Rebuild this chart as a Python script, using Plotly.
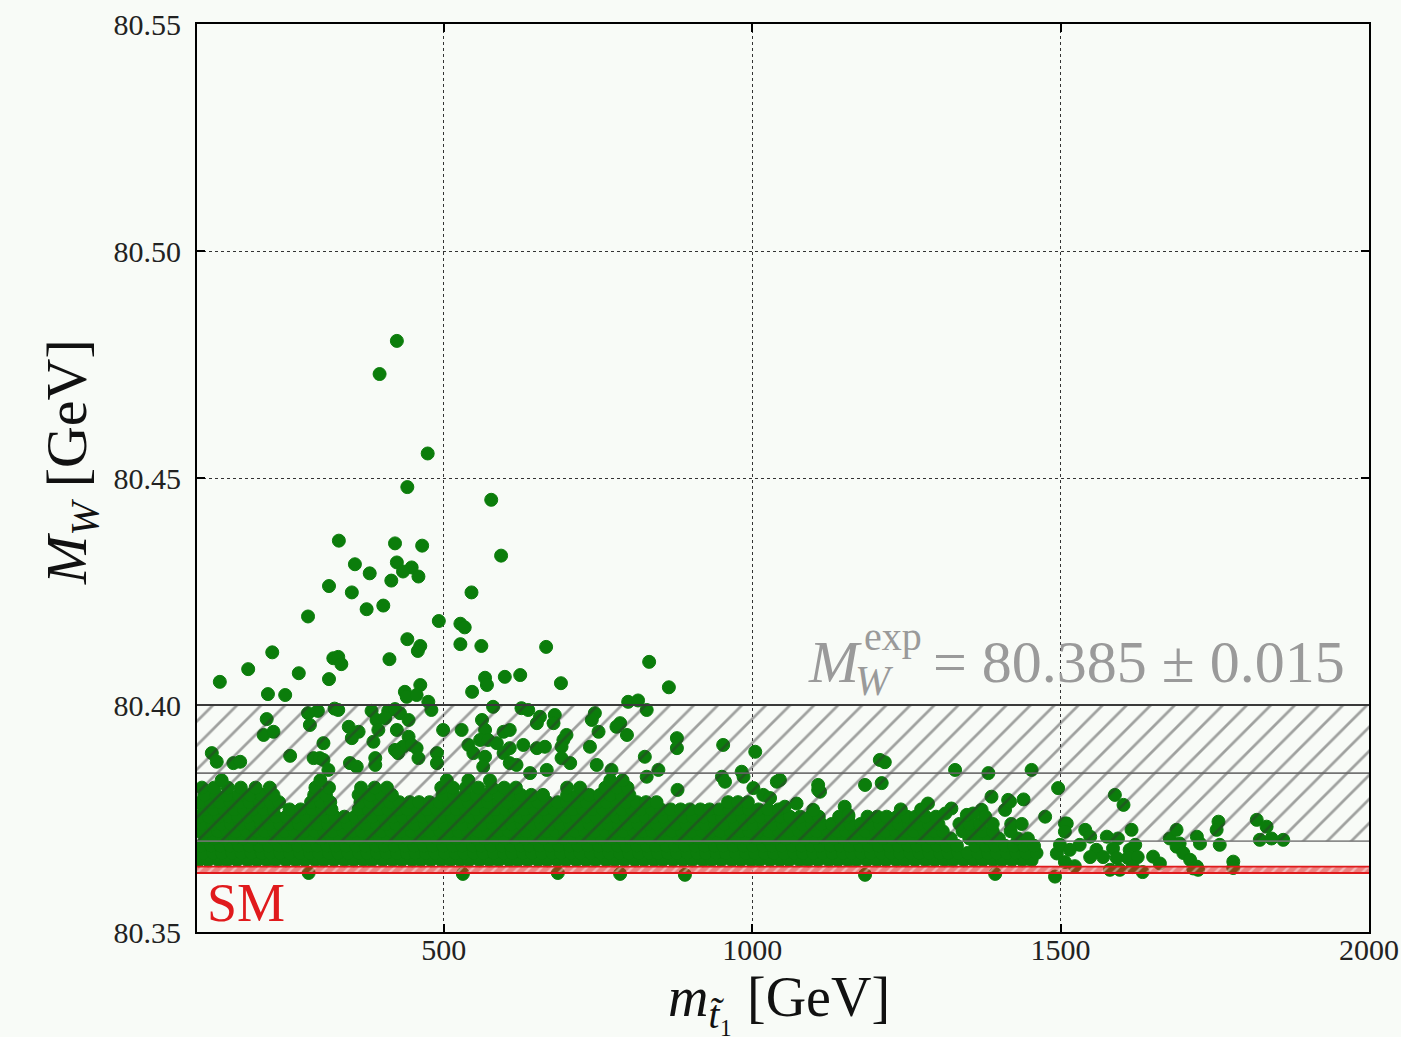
import plotly.graph_objects as go

# ---------------------------------------------------------------------------
# Axes
# ---------------------------------------------------------------------------
x_range = [100, 2000]
y_range = [80.35, 80.55]
x_ticks = [500, 1000, 1500, 2000]
y_ticks = [80.35, 80.40, 80.45, 80.50, 80.55]

# Experimental W mass and its uncertainty (GeV)
mw_exp = 80.385
mw_exp_err = 0.015
# SM prediction band (GeV)
mw_sm_low = 80.3630
mw_sm_high = 80.3644

# ---------------------------------------------------------------------------
# Scan points: the saturated core, stored row by row (one m_W level per row)
# ---------------------------------------------------------------------------
mw_rows = [80.3658, 80.3674, 80.3690, 80.3706, 80.3722, 80.3738,
           80.3754, 80.3770, 80.3786, 80.3802, 80.3818, 80.3834]

mstop_row0 = [103, 118, 135, 149, 165, 182, 197, 213, 227, 244, 260, 275, 292, 306, 322,
              339, 354, 370, 384, 401, 417, 432, 449, 463, 479, 496, 511, 527, 541, 558,
              574, 589, 606, 620, 636, 653, 668, 684, 698, 715, 731, 746, 763, 777, 793,
              810, 825, 841, 855, 872, 888, 903, 920, 934, 950, 967, 982, 998, 1012, 1029,
              1045, 1060, 1077, 1091, 1107, 1124, 1139, 1155, 1169, 1186, 1202, 1217, 1234,
              1248, 1264, 1281, 1296, 1312, 1326, 1343, 1359, 1374, 1391, 1405, 1421, 1438,
              1453]
mstop_row1 = [110, 126, 140, 157, 172, 188, 205, 219, 235, 250, 267, 283, 297, 314, 329,
              345, 362, 376, 392, 407, 424, 440, 454, 471, 486, 502, 519, 533, 549, 564,
              581, 597, 611, 628, 643, 659, 676, 690, 706, 721, 738, 754, 768, 785, 800,
              816, 833, 847, 863, 878, 895, 911, 925, 942, 957, 973, 990, 1004, 1020, 1035,
              1052, 1068, 1082, 1099, 1114, 1130, 1147, 1161, 1177, 1192, 1209, 1225, 1239,
              1256, 1271, 1287, 1304, 1318, 1334, 1349, 1366, 1382, 1396, 1413, 1428, 1444,
              1461]
mstop_row2 = [106, 123, 138, 154, 168, 185, 201, 216, 233, 247, 263, 280, 295, 311, 325,
              342, 358, 373, 390, 404, 420, 437, 452, 468, 482, 499, 515, 530, 547, 561,
              577, 594, 609, 625, 639, 656, 672, 687, 704, 718, 734, 751, 766, 782, 796,
              813, 829, 844, 861, 875, 891, 908, 923, 939, 953, 970, 986, 1001, 1018, 1032,
              1048, 1065, 1080, 1096, 1110, 1127, 1143, 1158, 1175, 1189, 1205, 1222, 1237,
              1253, 1267, 1284, 1300, 1315, 1332, 1362, 1379, 1394, 1410, 1424, 1441, 1457]
mstop_row3 = [113, 128, 144, 161, 175, 191, 206, 223, 239, 253, 270, 285, 301, 318, 332,
              348, 363, 380, 396, 410, 427, 442, 458, 475, 489, 505, 520, 537, 553, 567,
              584, 599, 615, 632, 646, 662, 677, 694, 710, 724, 741, 756, 772, 789, 803,
              819, 834, 851, 867, 881, 898, 913, 929, 946, 960, 976, 991, 1008, 1024, 1038,
              1055, 1070, 1086, 1103, 1117, 1133, 1148, 1165, 1181, 1195, 1212, 1227, 1243,
              1260, 1274, 1290, 1305, 1322, 1352, 1369, 1384, 1400, 1431, 1447]
mstop_row4 = [101, 117, 134, 149, 163, 180, 196, 210, 225, 242, 258, 274, 291, 306, 320,
              337, 353, 367, 382, 399, 415, 431, 448, 463, 477, 494, 510, 524, 539, 556,
              572, 588, 605, 620, 634, 651, 667, 681, 696, 713, 729, 745, 762, 777, 791,
              808, 824, 838, 853, 870, 886, 902, 919, 934, 948, 965, 981, 995, 1010, 1027,
              1043, 1059, 1076, 1091, 1105, 1122, 1138, 1152, 1167, 1184, 1200, 1216, 1233,
              1248, 1262, 1279, 1295, 1309, 1341, 1357, 1373, 1390, 1419]
mstop_row5 = [108, 125, 139, 155, 170, 187, 203, 217, 234, 249, 265, 282, 296, 312, 327,
              344, 360, 374, 391, 406, 422, 439, 453, 469, 484, 501, 517, 531, 548, 563,
              579, 596, 610, 626, 641, 658, 674, 688, 705, 720, 736, 753, 767, 783, 798,
              815, 831, 845, 862, 877, 893, 910, 924, 940, 955, 972, 988, 1002, 1019, 1034,
              1050, 1067, 1081, 1097, 1112, 1129, 1145, 1159, 1176, 1191, 1207, 1224, 1238,
              1254, 1269, 1286, 1302, 1336, 1352, 1369, 1390, 1420, 1437]
mstop_row6 = [104, 119, 136, 152, 166, 182, 199, 214, 228, 245, 261, 276, 293, 309, 323,
              339, 356, 371, 385, 402, 418, 433, 450, 466, 480, 496, 513, 528, 542, 559,
              575, 590, 607, 623, 637, 653, 670, 685, 699, 716, 732, 747, 764, 780, 794,
              810, 827, 842, 856, 873, 889, 904, 921, 937, 951, 967, 984, 999, 1013, 1030,
              1046, 1061, 1078, 1094, 1108, 1141, 1156, 1187, 1203, 1218, 1235, 1251, 1265,
              1281, 1298]
mstop_row7 = [111, 127, 144, 160, 176, 191, 208, 224, 250, 268, 287, 303, 318, 362, 378,
              395, 410, 426, 441, 458, 473, 489, 504, 521, 536, 552, 568, 583, 600, 615,
              631, 647, 662, 679, 694, 710, 726, 741, 758, 773, 789, 805, 820, 837, 852,
              868, 884, 899, 916, 931, 947, 963, 978, 995, 1010, 1026, 1043, 1241, 1274]
mstop_row8 = [105, 122, 137, 154, 170, 185, 202, 219, 233, 285, 301, 316, 365, 381, 396,
              413, 428, 445, 460, 477, 493, 508, 525, 540, 557, 572, 589, 604, 621, 636,
              653, 668, 685, 700, 717, 732, 749, 764, 781, 796, 813, 828, 845, 961, 977,
              993]
mstop_row9 = [112, 131, 149, 168, 186, 205, 224, 290, 309, 362, 381, 399, 416, 498, 516,
              535, 553, 571, 590, 608, 625, 642, 661, 700, 718, 736, 753, 770, 788, 801]
mstop_row10 = [108, 128, 150, 171, 195, 218, 292, 314, 366, 388, 408, 496, 515, 536, 556,
               578, 598, 617, 700, 721, 762, 781, 798]
mstop_row11 = [140, 300, 505, 540, 575, 770, 790]

mstop_rows = [mstop_row0, mstop_row1, mstop_row2, mstop_row3, mstop_row4, mstop_row5,
              mstop_row6, mstop_row7, mstop_row8, mstop_row9, mstop_row10, mstop_row11]

# ---------------------------------------------------------------------------
# Scan points: individual points above the core
# ---------------------------------------------------------------------------
mstop_high = [424, 396, 474, 441, 577, 330, 421, 465, 593, 356, 424, 380, 448, 459, 434,
              415, 314, 351, 545, 280, 375, 402, 492, 527, 534, 441, 462, 458, 527, 561,
              666, 222, 321, 329, 334, 412, 833, 183, 265, 314, 137, 567, 570, 599, 624,
              690, 865, 546, 215, 243, 437, 440, 462, 456, 475, 799, 815]
mw_high = [80.4802, 80.4729, 80.4554, 80.4480, 80.4452, 80.4362, 80.4356, 80.4351, 80.4329,
           80.4310, 80.4314, 80.4290, 80.4303, 80.4283, 80.4294, 80.4274, 80.4262, 80.4248,
           80.4248, 80.4195, 80.4211, 80.4219, 80.4185, 80.4179, 80.4171, 80.4145, 80.4130,
           80.4119, 80.4134, 80.4130, 80.4128, 80.4116, 80.4103, 80.4106, 80.4090, 80.4101,
           80.4095, 80.4079, 80.4070, 80.4057, 80.4051, 80.4060, 80.4044, 80.4062, 80.4066,
           80.4048, 80.4039, 80.4029, 80.4024, 80.4022, 80.4029, 80.4018, 80.4044, 80.4022,
           80.4007, 80.4007, 80.4010]

mstop_band = [296, 323, 383, 410, 329, 280, 283, 213, 208, 224, 305, 346, 362, 351, 391,
              405, 394, 421, 429, 443, 480, 424, 443, 434, 448, 386, 389, 389, 421, 426,
              456, 459, 489, 489, 499, 529, 562, 567, 559, 572, 540, 548, 567, 564, 124,
              132, 159, 170, 251, 289, 299, 305, 348, 359, 313,
              580, 626, 637, 656, 651, 680, 678, 745, 740, 751, 737, 786, 780, 797, 829,
              878, 878, 953, 1005, 597, 607, 586, 597, 607, 629, 651, 664, 694, 699, 691,
              607, 618, 640, 667, 691, 705, 748, 772, 826, 848, 829, 983, 986, 951, 956,
              1040, 1002, 1018, 1029, 1053, 879, 1045]
mw_band = [80.3987, 80.3992, 80.3987, 80.3987, 80.3989, 80.3982, 80.3956, 80.3969, 80.3934,
           80.3941, 80.3916, 80.3952, 80.3941, 80.3927, 80.3967, 80.3971, 80.3945, 80.3991,
           80.3982, 80.3967, 80.3989, 80.3945, 80.3930, 80.3908, 80.3912, 80.3919, 80.3883,
           80.3868, 80.3901, 80.3894, 80.3905, 80.3883, 80.3894, 80.3872, 80.3945, 80.3945,
           80.3967, 80.3945, 80.3923, 80.3923, 80.3912, 80.3894, 80.3886, 80.3864, 80.3894,
           80.3875, 80.3872, 80.3875, 80.3888, 80.3883, 80.3883, 80.3879, 80.3872, 80.3864,
           80.3857,
           80.3996, 80.3993, 80.3989, 80.3974, 80.3960, 80.3978, 80.3960, 80.3982, 80.3967,
           80.3941, 80.3908, 80.3960, 80.3952, 80.3934, 80.3989, 80.3927, 80.3905, 80.3912,
           80.3897, 80.3941, 80.3945, 80.3916, 80.3894, 80.3905, 80.3912, 80.3905, 80.3908,
           80.3923, 80.3934, 80.3908, 80.3872, 80.3868, 80.3850, 80.3857, 80.3883, 80.3872,
           80.3868, 80.3857, 80.3886, 80.3857, 80.3842, 80.3853, 80.3842, 80.3842, 80.3831,
           80.3831, 80.3817, 80.3802, 80.3795, 80.3776, 80.3813, 80.3835]

# Heavy-stop tail and the few points below the core
mstop_tail = [1072, 1099, 1150, 1156, 1107, 1110, 1183, 1210, 1207, 1215, 1285, 1275, 1323,
              1313, 1372, 1378, 1348, 1410, 1415, 1388, 1440, 1475, 1507, 1329, 1383, 1453,
              1496, 1358, 1418, 1107,
              1540, 1548, 1575, 1593, 1615, 1531, 1558, 1585, 1612, 1621, 1548, 1569, 1591,
              1609, 1625, 1580, 1596, 1617, 1510, 1507, 1494, 1499, 1515, 1507, 1523, 1588,
              1602, 1650, 1661, 1677, 1688, 1693, 1688, 1699, 1710, 1721, 1721, 1726, 1715,
              1723, 1756, 1753, 1758, 1780, 1780, 1818, 1834, 1823, 1842, 1861,
              281, 531, 685, 786, 891, 1183, 1394, 1633, 1491]
mw_tail = [80.3783, 80.3769, 80.3776, 80.3758, 80.3824, 80.3809, 80.3824, 80.3828, 80.3879,
           80.3874, 80.3783, 80.3769, 80.3772, 80.3761, 80.3769, 80.3754, 80.3758, 80.3769,
           80.3791, 80.3798, 80.3792, 80.3754, 80.3739, 80.3857, 80.3850, 80.3857, 80.3817,
           80.3761, 80.3787, 80.3813,
           80.3725, 80.3710, 80.3710, 80.3706, 80.3725, 80.3692, 80.3681, 80.3684, 80.3681,
           80.3692, 80.3665, 80.3665, 80.3663, 80.3663, 80.3665, 80.3637, 80.3637, 80.3643,
           80.3739, 80.3721, 80.3673, 80.3692, 80.3681, 80.3654, 80.3645, 80.3802, 80.3780,
           80.3666, 80.3651, 80.3706, 80.3725, 80.3695, 80.3688, 80.3674, 80.3659, 80.3644,
           80.3710, 80.3695, 80.3640, 80.3637, 80.3743, 80.3725, 80.3692, 80.3655, 80.3641,
           80.3747, 80.3732, 80.3703, 80.3706, 80.3703,
           80.3630, 80.3628, 80.3630, 80.3628, 80.3626, 80.3626, 80.3628, 80.3632, 80.3622]

# ---------------------------------------------------------------------------
# Assemble the full scan
# ---------------------------------------------------------------------------
scan_x, scan_y = [], []
for level, row in zip(mw_rows, mstop_rows):
    scan_x += row
    scan_y += [level] * len(row)
for xs, ys in ((mstop_high, mw_high), (mstop_band, mw_band), (mstop_tail, mw_tail)):
    scan_x += xs
    scan_y += ys

bg = "#f8fbf7"
serif = "Liberation Serif"
label_grey = "#9a9a9a"
sm_red = "#e01a1c"

fig = go.Figure()

fig.add_trace(go.Scatter(
    x=scan_x, y=scan_y, mode="markers",
    marker=dict(size=13, color="#0b7d0b", line=dict(width=1, color="#0b7d0b")),
    showlegend=False, hoverinfo="skip",
))

# Hatched 1-sigma band of the measured W mass
band_lo = mw_exp - mw_exp_err
band_hi = mw_exp + mw_exp_err
fig.add_trace(go.Scatter(
    x=[x_range[0], x_range[1], x_range[1], x_range[0], x_range[0]],
    y=[band_lo, band_lo, band_hi, band_hi, band_lo],
    mode="lines", fill="toself", fillcolor="rgba(0,0,0,0)",
    line=dict(width=0, color="rgba(0,0,0,0)"),
    fillpattern=dict(shape="/", fgcolor="rgba(50,50,50,0.9)",
                     bgcolor="rgba(0,0,0,0)", size=17, solidity=0.16),
    showlegend=False, hoverinfo="skip",
))

# Narrow SM band
fig.add_trace(go.Scatter(
    x=[x_range[0], x_range[1], x_range[1], x_range[0], x_range[0]],
    y=[mw_sm_low, mw_sm_low, mw_sm_high, mw_sm_high, mw_sm_low],
    mode="lines", fill="toself", fillcolor="rgba(225,30,30,0.55)",
    line=dict(width=0, color="rgba(0,0,0,0)"),
    fillpattern=dict(shape="/", fgcolor="rgba(255,255,255,0.85)",
                     bgcolor="rgba(225,30,30,0.55)", size=8, solidity=0.3),
    showlegend=False, hoverinfo="skip",
))

shapes = [
    dict(type="line", xref="x", yref="y", x0=x_range[0], x1=x_range[1], y0=band_hi, y1=band_hi,
         line=dict(color="#3a3a3a", width=1.8), layer="above"),
    dict(type="line", xref="x", yref="y", x0=x_range[0], x1=x_range[1], y0=mw_exp, y1=mw_exp,
         line=dict(color="rgba(100,100,100,0.9)", width=1.8), layer="above"),
    dict(type="line", xref="x", yref="y", x0=x_range[0], x1=x_range[1], y0=band_lo, y1=band_lo,
         line=dict(color="rgba(120,120,120,0.85)", width=1.8), layer="above"),
    dict(type="line", xref="x", yref="y", x0=x_range[0], x1=x_range[1], y0=mw_sm_low, y1=mw_sm_low,
         line=dict(color=sm_red, width=1.8), layer="above"),
    dict(type="line", xref="x", yref="y", x0=x_range[0], x1=x_range[1], y0=mw_sm_high, y1=mw_sm_high,
         line=dict(color=sm_red, width=1.8), layer="above"),
]

annotations = [
    # axis titles
    dict(text="<i>m</i><sub><i>t\u0303</i>\u2081</sub> [GeV]", xref="paper", yref="paper",
         x=0.4966, y=-0.076, xanchor="center", yanchor="middle", showarrow=False,
         font=dict(family=serif, size=56, color="#111")),
    dict(text="<i>M</i><sub><i>W</i></sub> [GeV]", xref="paper", yref="paper",
         x=-0.1084, y=0.5176, xanchor="center", yanchor="middle", textangle=-90,
         showarrow=False, font=dict(family=serif, size=58, color="#111")),
    # experimental value label
    dict(text="<i>M</i>", xref="paper", yref="paper", x=0.520, y=0.2974,
         xanchor="left", yanchor="middle", showarrow=False,
         font=dict(family=serif, size=60, color=label_grey)),
    dict(text="<i>W</i>", xref="paper", yref="paper", x=0.5601, y=0.2765,
         xanchor="left", yanchor="middle", showarrow=False,
         font=dict(family=serif, size=42, color=label_grey)),
    dict(text="exp", xref="paper", yref="paper", x=0.5678, y=0.3249,
         xanchor="left", yanchor="middle", showarrow=False,
         font=dict(family=serif, size=40, color=label_grey)),
    dict(text="= 80.385 \u00b1 0.015", xref="paper", yref="paper", x=0.9810, y=0.2974,
         xanchor="right", yanchor="middle", showarrow=False,
         font=dict(family=serif, size=60, color=label_grey)),
    # SM label
    dict(text="SM", xref="paper", yref="paper", x=0.0068, y=0.0319,
         xanchor="left", yanchor="middle", showarrow=False,
         font=dict(family=serif, size=54, color=sm_red)),
]

axis_common = dict(
    ticks="inside", ticklen=8, tickwidth=1.5, tickcolor="black",
    showline=True, linewidth=2, linecolor="black", mirror="ticks",
    showgrid=True, gridcolor="#333333", griddash="dot", gridwidth=1,
    zeroline=False, automargin=False,
    tickfont=dict(family=serif, size=30, color="#222"),
)

fig.update_layout(
    width=1401, height=1037,
    margin=dict(l=197, r=32, t=24, b=105),
    paper_bgcolor=bg, plot_bgcolor=bg,
    font=dict(family=serif, color="#222"),
    xaxis=dict(range=x_range, tickvals=x_ticks, ticklabelstandoff=-10, **axis_common),
    yaxis=dict(range=y_range, tickvals=y_ticks, tickformat=".2f", ticklabelstandoff=8,
               **axis_common),
    shapes=shapes,
    annotations=annotations,
)

fig.write_html("out.html")
